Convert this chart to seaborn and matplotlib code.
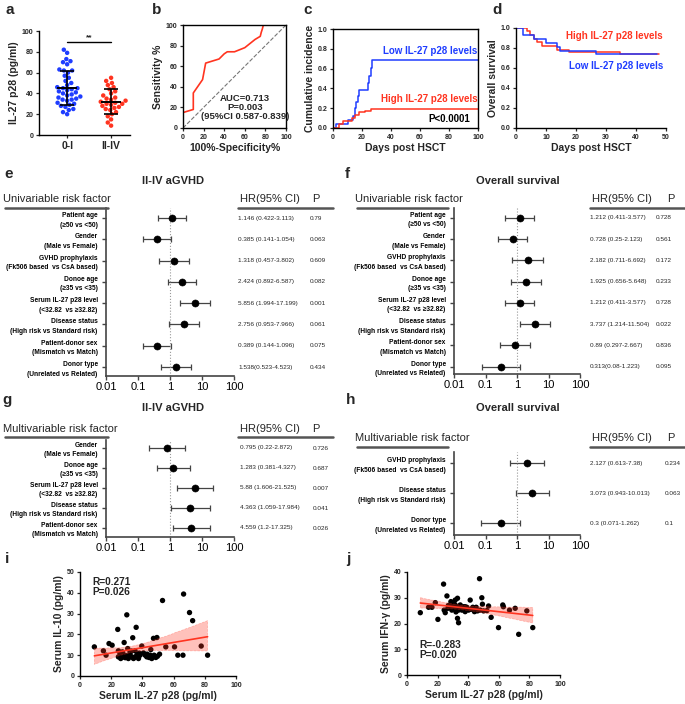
import numpy as np
import pandas as pd
import matplotlib
matplotlib.use('Agg')
import matplotlib.pyplot as plt
import matplotlib.transforms as mtrans
from matplotlib.lines import Line2D
import seaborn as sns

# ---------------- data ----------------
BLUE = '#1f3dff'
RED = '#ff3420'

# a: IL-27 p28 by aGVHD grade
grp_01 = [82, 79, 73, 71, 70, 68, 63, 62, 62, 60, 57, 55, 52, 50, 48, 46, 45, 45, 44, 43,
          42, 41, 40, 39, 38, 37, 36, 35, 34, 34, 33, 31, 30, 29, 28, 27, 25, 24, 22, 20]
grp_24 = [55, 52, 50, 48, 46, 44, 42, 40, 38, 36, 35, 34, 33, 32, 31, 30, 30, 29, 28, 27,
          26, 25, 24, 22, 20, 18, 15, 12, 9]
grp_names = ['0-I', 'II-IV']

# b: ROC curve
roc_x = [0, 0, 10, 10, 19, 22, 35, 40, 43, 50, 55, 60, 65, 70, 75, 76, 77, 78, 100]
roc_y = [0, 15, 18, 34, 47, 63, 67, 72, 74, 74, 76, 78, 82, 86, 89, 93, 96, 100, 100]

# c: cumulative incidence of II-IV aGVHD
c_low_t = [0, 2, 10, 14, 15, 16, 17, 18, 24, 25, 26, 27, 100]
c_low_v = [0, 0.04, 0.08, 0.12, 0.2, 0.26, 0.32, 0.38, 0.45, 0.53, 0.61, 0.69, 0.69]
c_high_t = [0, 4, 7, 13, 15, 18, 22, 26, 100]
c_high_v = [0, 0.04, 0.07, 0.1, 0.13, 0.16, 0.17, 0.19, 0.19]

# d: overall survival
d_high_t = [0, 3.5, 4.5, 6, 7, 8.5, 13.5, 17.5, 34.7, 47.5]
d_high_v = [1, 0.97, 0.93, 0.89, 0.86, 0.82, 0.78, 0.765, 0.74, 0.74]
d_low_t = [0, 2.2, 6, 10, 13.5, 14.7, 26.7, 47]
d_low_v = [1, 0.93, 0.89, 0.85, 0.815, 0.775, 0.74, 0.74]

# forest plots
lab_age = 'Patient age\n(≥50 vs <50)'
lab_gender = 'Gender\n(Male vs Female)'
lab_gvhd = 'GVHD prophylaxis\n(Fk506 based  vs CsA based)'
lab_donor_age = 'Donoe age\n(≥35 vs <35)'
lab_il27 = 'Serum IL-27 p28 level\n(<32.82  vs ≥32.82)'
lab_disease = 'Disease status\n(High risk vs Standard risk)'
lab_sex = 'Patient-donor sex\n(Mismatch vs Match)'
lab_type = 'Donor type\n(Unrelated vs Related)'

e_labels = [lab_age, lab_gender, lab_gvhd, lab_donor_age, lab_il27, lab_disease, lab_sex, lab_type]
e_hr = [1.146, 0.385, 1.318, 2.424, 5.856, 2.756, 0.389, 1.538]
e_lo = [0.422, 0.141, 0.457, 0.892, 1.994, 0.953, 0.144, 0.523]
e_hi = [3.113, 1.054, 3.802, 6.587, 17.199, 7.966, 1.096, 4.523]
e_txt = ['1.146 (0.422-3.113)', '0.385 (0.141-1.054)', '1.318 (0.457-3.802)', '2.424 (0.892-6.587)',
         '5.856 (1.994-17.199)', '2.756 (0.953-7.966)', '0.389 (0.144-1.096)', '1.538(0.523-4.523)']
e_p = ['0.79', '0.063', '0.609', '0.082', '0.001', '0.061', '0.075', '0.434']

f_labels = e_labels
f_hr = [1.212, 0.728, 2.182, 1.925, 1.212, 3.737, 0.89, 0.313]
f_lo = [0.411, 0.25, 0.711, 0.656, 0.411, 1.214, 0.297, 0.08]
f_hi = [3.577, 2.123, 6.692, 5.648, 3.577, 11.504, 2.667, 1.223]
f_txt = ['1.212 (0.411-3.577)', '0.728 (0.25-2.123)', '2.182 (0.711-6.692)', '1.925 (0.656-5.648)',
         '1.212 (0.411-3.577)', '3.737 (1.214-11.504)', '0.89 (0.297-2.667)', '0.313(0.08-1.223)']
f_p = ['0.728', '0.561', '0.172', '0.233', '0.728', '0.022', '0.836', '0.095']

g_labels = [lab_gender, lab_donor_age, lab_il27, lab_disease, lab_sex]
g_hr = [0.795, 1.283, 5.88, 4.363, 4.559]
g_lo = [0.22, 0.381, 1.606, 1.059, 1.2]
g_hi = [2.872, 4.327, 21.525, 17.984, 17.325]
g_txt = ['0.795 (0.22-2.872)', '1.283 (0.381-4.327)', '5.88 (1.606-21.525)',
         '4.363 (1.059-17.984)', '4.559 (1.2-17.325)']
g_p = ['0.726', '0.687', '0.007', '0.041', '0.026']

h_labels = [lab_gvhd, lab_disease, lab_type]
h_hr = [2.127, 3.073, 0.3]
h_lo = [0.613, 0.943, 0.071]
h_hi = [7.38, 10.013, 1.262]
h_txt = ['2.127 (0.613-7.38)', '3.073 (0.943-10.013)', '0.3 (0.071-1.262)']
h_p = ['0.234', '0.063', '0.1']

# i: IL-10 vs IL-27 p28
i_x = [9.2, 15, 16.7, 18.6, 20.6, 24.2, 24.6, 24.6, 25.7, 26.1, 27.2, 28.3, 28.9, 30, 30.6, 31,
       32.1, 33.2, 33.8, 34.3, 35.3, 36, 36.4, 37.5, 38.5, 39.6, 40.7, 41.8, 42.8, 44.3, 45.4, 46,
       47.1, 47.5, 48.6, 49.3, 49.7, 51, 52.9, 55, 60.6, 62.7, 66, 66.4, 70.2, 72.2, 77.7, 81.8,
       26, 27, 29, 30.5, 32, 33, 35, 38, 43, 45]
i_y = [14, 12.1, 10, 15.6, 14.8, 22.4, 12.1, 9.2, 10.8, 8.4, 11.6, 16.1, 10, 29.4, 13.2, 8.4,
       11.6, 9.2, 18.4, 8.4, 12.1, 23.4, 10, 8.4, 10, 14.4, 11.1, 10, 9.2, 8.9, 12.7, 8.4,
       18.1, 10, 8.9, 18.5, 9.5, 10.5, 36.3, 14, 14, 10, 10, 39.4, 30.5, 26.6, 14.4, 10,
       10.5, 9, 8.8, 9.5, 10.5, 12, 9, 11, 10.5, 10]

# j: IFN-gamma vs IL-27 p28
j_x = [8.7, 14.1, 16.3, 18.5, 20.2, 23.9, 24.3, 25, 26.1, 26.7, 27.8, 28.7, 29.3, 30, 30.9, 31.5,
       32.2, 33, 33, 33.7, 33.7, 34.8, 35.9, 37, 38, 39.1, 40.2, 41.3, 41.7, 43, 44.1, 45.2, 46.1,
       47.4, 47.8, 48.9, 49.3, 50, 52.2, 53.3, 55, 59.8, 62.6, 63, 67, 70.7, 73, 78.3, 82.2,
       27, 29, 31, 32, 36, 38]
j_y = [24.2, 26.3, 26.3, 28.1, 21.6, 35.3, 25.2, 24.2, 30.7, 25.9, 26.5, 28.5, 25.2, 27.5, 25.9, 29.1,
       26.8, 29.8, 22, 20.3, 25.2, 27.2, 25.2, 26.5, 24.6, 26.3, 25.2, 29.1, 25.5, 26.3, 24.6, 26.3, 24.9,
       37.4, 25.2, 30, 27.5, 24.9, 25, 26.8, 22.4, 18.4, 27.2, 26.5, 25.2, 25.9, 15.8, 24.9, 18.4,
       27, 26, 27.5, 24.5, 26, 26.5]

# ---------------- figure ----------------
sns.set_theme(style='ticks')
plt.rcParams['font.family'] = ['Liberation Sans', 'DejaVu Sans']
plt.rcParams['axes.linewidth'] = 1.0
plt.rcParams['axes.edgecolor'] = 'black'

W, H = 685, 704
fig = plt.figure(figsize=(W / 100, H / 100), dpi=100)


def ax_px(x0, y0, x1, y1):
    return fig.add_axes([x0 / W, 1 - y1 / H, (x1 - x0) / W, (y1 - y0) / H])


def ftext(x, y, s, **kw):
    fig.text(x / W, 1 - y / H, s, **kw)


def hline_px(x0, x1, y, color='#555555', lw=1.8):
    fig.add_artist(Line2D([x0 / W, x1 / W], [1 - y / H, 1 - y / H],
                          transform=fig.transFigure, color=color, lw=lw))


def style_small(ax, fs=5):
    ax.tick_params(labelsize=fs, length=2.5, width=0.9, pad=1.5)
    for t in ax.get_xticklabels() + ax.get_yticklabels():
        t.set_fontweight('bold')


LBL = dict(fontsize=7.5, fontweight='bold', labelpad=2)

# panel letters
for s, x, y in [('a', 5, 14), ('b', 152, 14), ('c', 303, 14), ('d', 492, 14),
                ('e', 4, 178), ('f', 345, 178), ('g', 2, 404), ('h', 346, 404),
                ('i', 5, 563), ('j', 346, 563)]:
    ftext(x, y, s, fontsize=11, fontweight='bold')

# ---- a ----
ax = ax_px(39, 31, 130, 135)
df_a = pd.DataFrame({'group': [grp_names[0]] * len(grp_01) + [grp_names[1]] * len(grp_24),
                     'value': grp_01 + grp_24})
sns.swarmplot(data=df_a, x='group', y='value', hue='group', palette=[BLUE, RED],
              order=grp_names, size=3.2, ax=ax, legend=False)
for k, vals in enumerate([grp_01, grp_24]):
    m, sd = np.mean(vals), np.std(vals, ddof=1)
    ax.errorbar(k, m, yerr=sd, color='black', capsize=5, elinewidth=1.2, capthick=1.2, zorder=5)
    ax.hlines(m, k - 0.22, k + 0.22, color='black', lw=1.4, zorder=5)
ax.plot([0, 1], [89, 89], color='black', lw=1)
ax.text(0.5, 90, '**', ha='center', va='bottom', fontsize=6, fontweight='bold')
ax.set_xlim(-0.64, 1.43)
ax.set_ylim(0, 100)
ax.set_yticks([0, 20, 40, 60, 80, 100])
ax.set_xlabel('')
ax.set_ylabel('IL-27 p28 (pg/ml)', **LBL)
sns.despine(ax=ax)
style_small(ax)
for t in ax.get_xticklabels():
    t.set_fontsize(7.5)

# ---- b ----
ax = ax_px(183, 25, 286, 128)
ax.plot([0, 100], [0, 100], color='#777777', ls='--', lw=0.8)
sns.lineplot(x=roc_x, y=roc_y, ax=ax, color=RED, lw=1.2, estimator=None, sort=False)
ax.set_xlim(0, 100)
ax.set_ylim(0, 100)
ax.set_xticks(range(0, 101, 20))
ax.set_yticks(range(0, 101, 20))
ax.set_xlabel('100%-Specificity%', **LBL)
ax.set_ylabel('Sensitivity %', **LBL)
ax.text(60, 33, 'AUC=0.713\nP=0.003\n(95%CI 0.587-0.839)', ha='center', va='top',
        fontsize=6.8, fontweight='bold', linespacing=1.0)
style_small(ax)

# ---- c ----
ax = ax_px(333, 29, 478, 128)
sns.lineplot(x=c_low_t, y=c_low_v, ax=ax, color=BLUE, lw=1.1, drawstyle='steps-post',
             estimator=None, sort=False)
sns.lineplot(x=c_high_t, y=c_high_v, ax=ax, color=RED, lw=1.1, drawstyle='steps-post',
             estimator=None, sort=False)
ax.set_xlim(0, 100)
ax.set_ylim(0, 1.0)
ax.set_xticks(range(0, 101, 20))
ax.set_yticks(np.arange(0, 1.01, 0.2))
ax.set_yticklabels(['0.0', '0.2', '0.4', '0.6', '0.8', '1.0'])
ax.text(0.995, 0.78, 'Low IL-27 p28 levels', transform=ax.transAxes, ha='right', va='center',
        color=BLUE, fontsize=7, fontweight='bold')
ax.text(0.995, 0.29, 'High IL-27 p28 levels', transform=ax.transAxes, ha='right', va='center',
        color=RED, fontsize=7, fontweight='bold')
ax.text(0.945, 0.09, 'P<0.0001', transform=ax.transAxes, ha='right', va='center',
        color='black', fontsize=7, fontweight='bold')
ax.set_xlabel('Days post HSCT', **LBL)
ax.set_ylabel('Cumulative incidence', **LBL)
style_small(ax)

# ---- d ----
ax = ax_px(516, 28, 666, 128)
sns.lineplot(x=d_high_t, y=d_high_v, ax=ax, color=RED, lw=1.1, drawstyle='steps-post',
             estimator=None, sort=False)
sns.lineplot(x=d_low_t, y=d_low_v, ax=ax, color=BLUE, lw=1.1, drawstyle='steps-post',
             estimator=None, sort=False)
ax.set_xlim(0, 50)
ax.set_ylim(0, 1.0)
ax.set_xticks(range(0, 51, 10))
ax.set_yticks(np.arange(0, 1.01, 0.2))
ax.set_yticklabels(['0.0', '0.2', '0.4', '0.6', '0.8', '1.0'])
ax.text(0.98, 0.92, 'High IL-27 p28 levels', transform=ax.transAxes, ha='right', va='center',
        color=RED, fontsize=7, fontweight='bold')
ax.text(0.98, 0.62, 'Low IL-27 p28 levels', transform=ax.transAxes, ha='right', va='center',
        color=BLUE, fontsize=7, fontweight='bold')
ax.set_xlabel('Days post HSCT', **LBL)
ax.set_ylabel('Overall survival', **LBL)
sns.despine(ax=ax)
style_small(ax)


# ---- forest plots ----
def forest(rect, ylim, labels, hr, lo, hi, txt, pv, hr_x, p_x):
    ax = ax_px(*rect)
    hr, lo, hi = np.array(hr), np.array(lo), np.array(hi)
    y = np.arange(len(labels))
    ax.errorbar(hr, y, xerr=[hr - lo, hi - hr], fmt='none', ecolor='#444444',
                elinewidth=0.9, capsize=2.5, capthick=0.9)
    sns.scatterplot(x=hr, y=y, ax=ax, color='black', s=26, edgecolor='black', zorder=3)
    ax.axvline(1, color='#999999', ls=':', lw=0.8)
    ax.set_xscale('log')
    ax.set_xlim(0.01, 100)
    ax.set_ylim(*ylim)
    ax.set_xticks([0.01, 0.1, 1, 10, 100])
    ax.set_xticklabels(['0.01', '0.1', '1', '10', '100'])
    ax.minorticks_off()
    ax.set_yticks(y)
    ax.set_yticklabels(labels)
    ax.tick_params(axis='y', labelsize=4.8, length=3, width=1, pad=3, colors='#444444',
                   labelcolor='black')
    ax.tick_params(axis='x', labelsize=8, length=3, width=1, pad=1.5, colors='#444444',
                   labelcolor='black')
    for t in ax.get_yticklabels():
        t.set_fontweight('bold')
        t.set_linespacing(1.5)
    for sp in ['left', 'bottom']:
        ax.spines[sp].set_color('#444444')
        ax.spines[sp].set_linewidth(1.2)
    sns.despine(ax=ax)
    tr = mtrans.blended_transform_factory(fig.transFigure, ax.transData)
    for k in range(len(labels)):
        fig.text(hr_x / W, k, txt[k], transform=tr, fontsize=4.6, va='center')
        fig.text(p_x / W, k, pv[k], transform=tr, fontsize=4.6, va='center')
    return ax


def headers(x_left, y_base, left_txt, ul_x1, hr_x, p_x, ul_y):
    ftext(x_left, y_base, left_txt, fontsize=8, va='baseline')
    hline_px(x_left + 2, ul_x1, ul_y)
    ftext(hr_x + 2, y_base, 'HR(95% CI)', fontsize=8, va='baseline')
    ftext(p_x, y_base, 'P', fontsize=8, va='baseline')
    hline_px(hr_x, hr_x + 95, ul_y)


# e
ftext(173, 181, 'II-IV aGVHD', fontsize=8, fontweight='bold', ha='center', va='center')
headers(3, 202, 'Univariable risk factor', 108, 238, 312, 208)
forest((106, 208, 234, 376), (7.42, -0.47), e_labels, e_hr, e_lo, e_hi, e_txt, e_p, 238, 310)

# f
ftext(518, 181, 'Overall survival', fontsize=8, fontweight='bold', ha='center', va='center')
headers(355, 202, 'Univariable risk factor', 448, 590, 667, 208)
forest((454, 208, 580, 374), (7.35, -0.47), f_labels, f_hr, f_lo, f_hi, f_txt, f_p, 590, 656)

# g
ftext(173, 408, 'II-IV aGVHD', fontsize=8, fontweight='bold', ha='center', va='center')
headers(3, 432, 'Multivariable risk factor', 108, 238, 312, 437)
forest((106, 440, 234, 537), (4.45, -0.4), g_labels, g_hr, g_lo, g_hi, g_txt, g_p, 240, 313)

# h
ftext(518, 408, 'Overall survival', fontsize=8, fontweight='bold', ha='center', va='center')
headers(355, 441, 'Multivariable risk factor', 448, 590, 667, 447)
forest((454, 452, 580, 535), (2.4, -0.37), h_labels, h_hr, h_lo, h_hi, h_txt, h_p, 590, 665)


# ---- i / j ----
def corr_panel(rect, xs, ys, ylim, yticks, ylabel, txt, txt_y):
    ax = ax_px(*rect)
    sns.regplot(x=xs, y=ys, ax=ax, color=RED, ci=95,
                scatter_kws=dict(color='black', s=15, edgecolor='none', alpha=1),
                line_kws=dict(color=RED, lw=1.2))
    for coll in ax.collections[1:]:
        coll.set_alpha(0.3)
        coll.set_linestyle('--')
        coll.set_edgecolor(RED)
        coll.set_linewidth(0.5)
    ax.set_xlim(0, 100)
    ax.set_ylim(*ylim)
    ax.set_xticks(range(0, 101, 20))
    ax.set_yticks(yticks)
    ax.set_xlabel('Serum IL-27 p28 (pg/ml)', **LBL)
    ax.set_ylabel(ylabel, **LBL)
    ax.text(0.08, txt_y, txt, transform=ax.transAxes, ha='left', va='top',
            fontsize=7.3, fontweight='bold', linespacing=0.95)
    sns.despine(ax=ax)
    style_small(ax)


corr_panel((80, 572, 236, 676), i_x, i_y, (0, 50), range(0, 51, 10),
           'Serum IL-10 (pg/ml)', 'R=0.271\nP=0.026', 0.95)
corr_panel((407, 572, 560, 675), j_x, j_y, (0, 40), range(0, 41, 10),
           'Serum IFN-γ (pg/ml)', 'R=-0.283\nP=0.020', 0.34)

fig.savefig('out.png', dpi=100)
